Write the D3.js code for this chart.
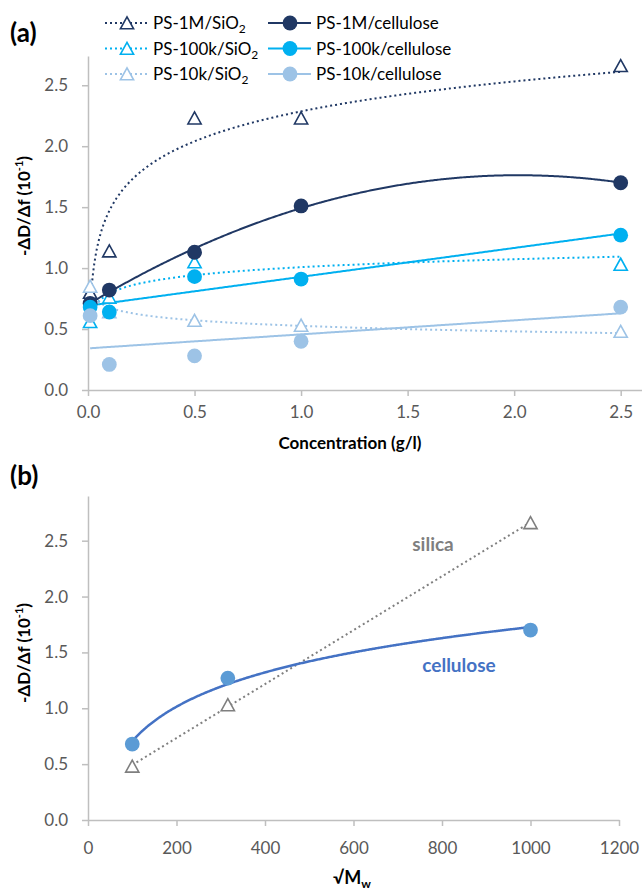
<!DOCTYPE html>
<html>
<head>
<meta charset="utf-8">
<script src="https://cdn.jsdelivr.net/npm/d3@7"></script>
<style>
  body { margin: 0; background: #fff; }
  svg { display: block; font-family: Lato, 'Open Sans', sans-serif; }
</style>
</head>
<body>
<svg id="chart" width="642" height="892"></svg>
<script>
// panel (a): concentration series (null = no point shown)
var concentration = [0.01, 0.1, 0.5, 1, 2.5]
var ps1mSio2 = [0.80, 1.14, 2.23, 2.23, 2.66]
var ps100kSio2 = [0.56, 0.76, 1.05, null, 1.03]
var ps10kSio2 = [0.85, 0.64, 0.57, 0.53, 0.48]
var ps1mCell = [0.71, 0.82, 1.13, 1.51, 1.70]
var ps100kCell = [0.68, 0.64, 0.93, 0.91, 1.27]
var ps10kCell = [0.61, 0.21, 0.28, 0.40, 0.68]
var concTicks = [0, 0.5, 1, 1.5, 2, 2.5]
var ratioTicks = [0, 0.5, 1, 1.5, 2, 2.5]

// panel (b): value at 2.5 g/l against sqrt(Mw)
var sqrtMw = [100, 316, 1000]
var cellulose = [0.68, 1.27, 1.70]
var silica = [0.48, 1.03, 2.66]
var mwTicks = [0, 200, 400, 600, 800, 1000, 1200]

var navy = '#203864', bright = '#00B0F0', pale = '#9DC3E6'
var axisColor = '#BFBFBF', tickText = '#595959'

var seriesA = [
  {name: 'PS-1M/SiO', sub: '2', y: ps1mSio2, color: navy, marker: 'tri', fit: 'log', dotted: true},
  {name: 'PS-100k/SiO', sub: '2', y: ps100kSio2, color: bright, marker: 'tri', fit: 'log', dotted: true},
  {name: 'PS-10k/SiO', sub: '2', y: ps10kSio2, color: pale, marker: 'tri', fit: 'log', dotted: true},
  {name: 'PS-1M/cellulose', y: ps1mCell, color: navy, marker: 'dot', fit: 'poly2'},
  {name: 'PS-100k/cellulose', y: ps100kCell, color: bright, marker: 'dot', fit: 'linear'},
  {name: 'PS-10k/cellulose', y: ps10kCell, color: pale, marker: 'dot', fit: 'linear'},
]

// least squares trendlines, same kinds Excel offers
function fitLinear(xs, ys){
  var mx = d3.mean(xs), my = d3.mean(ys)
  var sxy = d3.sum(xs, (x, i) => (x - mx)*(ys[i] - my))
  var sxx = d3.sum(xs, x => (x - mx)*(x - mx))
  var b = sxy/sxx, a = my - b*mx
  return x => a + b*x
}
function fitLog(xs, ys){
  var f = fitLinear(xs.map(Math.log), ys)
  return x => f(Math.log(x))
}
function fitPoly2(xs, ys){
  var s = k => d3.sum(xs, x => Math.pow(x, k))
  var t = k => d3.sum(xs, (x, i) => Math.pow(x, k)*ys[i])
  var m = [[s(0), s(1), s(2), t(0)], [s(1), s(2), s(3), t(1)], [s(2), s(3), s(4), t(2)]]
  for (var i = 0; i < 3; i++){
    for (var j = i + 1; j < 3; j++){
      var r = m[j][i]/m[i][i]
      for (var k = i; k < 4; k++) m[j][k] -= r*m[i][k]
    }
  }
  var c = [0, 0, 0]
  for (var i = 2; i >= 0; i--){
    var v = m[i][3]
    for (var k = i + 1; k < 3; k++) v -= m[i][k]*c[k]
    c[i] = v/m[i][i]
  }
  return x => c[0] + c[1]*x + c[2]*x*x
}
var fitters = {linear: fitLinear, log: fitLog, poly2: fitPoly2}

function sampleFit(f, x0, x1){
  return d3.range(401).map(i => {
    var x = x0 + (x1 - x0)*i/400
    return [x, f(x)]
  })
}

var triPath = 'M0,-6.2L6.6,5.8L-6.6,5.8Z'

function drawMarker(g, type, color, x, y){
  if (type == 'tri'){
    g.append('path').attr('d', triPath)
      .attr('transform', 'translate(' + x + ',' + y + ')')
      .attr('fill', '#fff').attr('stroke', color).attr('stroke-width', 1.6)
  } else {
    g.append('circle').attr('cx', x).attr('cy', y).attr('r', 7.4)
      .attr('fill', color)
  }
}

function styleAxis(g){
  g.select('.domain').attr('stroke', axisColor).attr('stroke-width', 1.5)
  g.selectAll('.tick line').attr('stroke', axisColor).attr('stroke-width', 1.5)
  g.selectAll('.tick text').attr('fill', tickText).attr('font-size', 17)
    .attr('font-family', 'Lato, sans-serif')
}

function yTitle(svg, cx, cy){
  var t = svg.append('text')
    .attr('transform', 'translate(' + cx + ',' + cy + ') rotate(-90)')
    .attr('text-anchor', 'middle')
    .attr('font-size', 17).attr('font-weight', 700).attr('fill', '#000')
  t.append('tspan').text('-ΔD/Δf (10')
  t.append('tspan').text('-1').attr('font-size', 11).attr('dy', -7)
  t.append('tspan').text(')').attr('dy', 7)
}

var svg = d3.select('#chart')
svg.append('rect').attr('width', 642).attr('height', 892).attr('fill', '#fff')

// ---------- panel (a)
var xA = d3.scaleLinear().domain([0, 2.6]).range([88, 642])
var yA = d3.scaleLinear().domain([0, 2.74]).range([390, 56])
var line = (xs, ys) => d3.line().x(d => xs(d[0])).y(d => ys(d[1]))

var gxA = svg.append('g').attr('transform', 'translate(0,' + yA(0) + ')')
  .call(d3.axisBottom(xA).tickValues(concTicks).tickFormat(d3.format('.1f'))
    .tickSize(6).tickSizeOuter(0).tickPadding(10))
styleAxis(gxA)
var gyA = svg.append('g').attr('transform', 'translate(' + xA(0) + ',0)')
  .call(d3.axisLeft(yA).tickValues(ratioTicks).tickFormat(d3.format('.1f'))
    .tickSize(6).tickSizeOuter(0).tickPadding(14))
styleAxis(gyA)

var trendA = svg.append('g')
seriesA.forEach(s => {
  var xs = concentration.filter((x, i) => s.y[i] != null)
  var ys = s.y.filter(v => v != null)
  var f = fitters[s.fit](xs, ys)
  trendA.append('path')
    .datum(sampleFit(f, d3.min(xs), d3.max(xs)))
    .attr('d', line(xA, yA))
    .attr('fill', 'none').attr('stroke', s.color).attr('stroke-width', 2)
    .attr('stroke-dasharray', s.dotted ? '2,3' : null)
})

var markA = svg.append('g')
seriesA.forEach(s => {
  s.y.forEach((v, i) => {
    if (v != null) drawMarker(markA, s.marker, s.color, xA(concentration[i]), yA(v))
  })
})

svg.append('text').text('Concentration (g/l)')
  .attr('x', 350).attr('y', 449).attr('text-anchor', 'middle')
  .attr('font-size', 17).attr('font-weight', 700)
yTitle(svg, 30, 206)

svg.append('text').text('(a)').attr('x', 10).attr('y', 42)
  .attr('font-size', 26).attr('font-weight', 700)

// legend: two columns of three
var legend = svg.append('g')
seriesA.forEach((s, i) => {
  var col = Math.floor(i/3), row = i % 3
  var lx = col ? 268 : 105, ly = 23 + row*25.5
  var g = legend.append('g').attr('transform', 'translate(' + lx + ',' + ly + ')')
  g.append('line').attr('x1', 0).attr('x2', 43)
    .attr('stroke', s.color).attr('stroke-width', 2)
    .attr('stroke-dasharray', s.dotted ? '2,3' : null)
  drawMarker(g, s.marker, s.color, 22, 0)
  var t = g.append('text').attr('x', 48).attr('y', 6).attr('font-size', 17).attr('fill', '#000')
  t.append('tspan').text(s.name)
  if (s.sub) t.append('tspan').text(s.sub).attr('font-size', 12).attr('dy', 4)
})

// ---------- panel (b)
var xB = d3.scaleLinear().domain([0, 1200]).range([88, 619])
var yB = d3.scaleLinear().domain([0, 2.9]).range([820, 496])

var gxB = svg.append('g').attr('transform', 'translate(0,' + yB(0) + ')')
  .call(d3.axisBottom(xB).tickValues(mwTicks).tickFormat(d3.format('d'))
    .tickSize(6).tickSizeOuter(0).tickPadding(16))
styleAxis(gxB)
var gyB = svg.append('g').attr('transform', 'translate(' + xB(0) + ',0)')
  .call(d3.axisLeft(yB).tickValues(ratioTicks).tickFormat(d3.format('.1f'))
    .tickSize(6).tickSizeOuter(0).tickPadding(14))
styleAxis(gyB)

var silicaFit = fitLinear(sqrtMw, silica)
var celluloseFit = fitLog(sqrtMw, cellulose)
svg.append('path')
  .datum(sampleFit(silicaFit, d3.min(sqrtMw), d3.max(sqrtMw)))
  .attr('d', line(xB, yB))
  .attr('fill', 'none').attr('stroke', '#7F7F7F').attr('stroke-width', 2)
  .attr('stroke-dasharray', '2,3')
svg.append('path')
  .datum(sampleFit(celluloseFit, d3.min(sqrtMw), d3.max(sqrtMw)))
  .attr('d', line(xB, yB))
  .attr('fill', 'none').attr('stroke', '#4472C4').attr('stroke-width', 2.5)

var markB = svg.append('g')
silica.forEach((v, i) => drawMarker(markB, 'tri', '#7F7F7F', xB(sqrtMw[i]), yB(v)))
cellulose.forEach((v, i) => drawMarker(markB, 'dot', '#5B9BD5', xB(sqrtMw[i]), yB(v)))

svg.append('text').text('silica').attr('x', 433).attr('y', 551)
  .attr('text-anchor', 'middle').attr('font-size', 19).attr('font-weight', 700).attr('fill', '#7F7F7F')
svg.append('text').text('cellulose').attr('x', 459).attr('y', 672)
  .attr('text-anchor', 'middle').attr('font-size', 19).attr('font-weight', 700).attr('fill', '#4472C4')

var mw = svg.append('text').attr('x', 352).attr('y', 884).attr('text-anchor', 'middle')
  .attr('font-size', 18).attr('font-weight', 700)
mw.append('tspan').text('√M')
mw.append('tspan').text('w').attr('font-size', 12).attr('dy', 4)

yTitle(svg, 30, 653)

svg.append('text').text('(b)').attr('x', 10).attr('y', 485)
  .attr('font-size', 26).attr('font-weight', 700)
</script>
</body>
</html>
